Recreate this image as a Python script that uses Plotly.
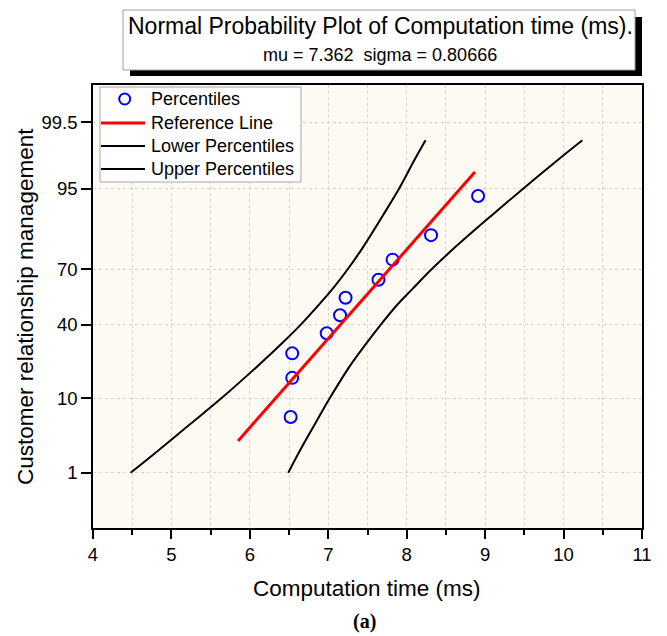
import plotly.graph_objects as go
from statistics import NormalDist

# ---------------- data ----------------
time_values = [6.52, 6.54, 6.54, 6.98, 7.15, 7.22, 7.64, 7.82, 8.31, 8.91]
pct_values = [6.1, 15.9, 25.6, 35.4, 45.1, 54.9, 64.6, 74.4, 84.1, 93.9]

ref_x = [5.85, 8.87]
ref_pct = [3, 97]

band_pct = [1, 2, 5, 10, 20, 30, 40, 50, 60, 70, 80, 90, 95, 98, 99]
lower_x = [4.48, 4.79, 5.24, 5.64, 6.09, 6.40, 6.65, 6.86, 7.06, 7.25, 7.45, 7.70, 7.90, 8.10, 8.24]
upper_x = [6.49, 6.62, 6.83, 7.02, 7.27, 7.48, 7.67, 7.86, 8.08, 8.32, 8.63, 9.09, 9.48, 9.93, 10.24]

y_tick_pct = [1, 10, 40, 70, 95, 99.5]
y_tick_text = ["1", "10", "40", "70", "95", "99.5"]
x_tick_vals = [4, 5, 6, 7, 8, 9, 10, 11]

series_names = ["Percentiles", "Reference Line", "Lower Percentiles", "Upper Percentiles"]

title_text = "Normal Probability Plot of Computation time (ms)."
subtitle_text = "mu = 7.362&nbsp;&nbsp;sigma = 0.80666"
x_title = "Computation time (ms)"
y_title = "Customer relationship management"
caption = "<b>(a)</b>"

# ---------------- probability (normal quantile) scale ----------------
nd = NormalDist()


def prob_to_z(vals):
    return [nd.inv_cdf(v / 100.0) for v in vals]


FONT = "Arial, 'Liberation Sans', sans-serif"
BLUE = "#0000ff"
RED = "#ff0000"

fig = go.Figure()

fig.add_trace(go.Scatter(
    x=time_values, y=prob_to_z(pct_values), mode="markers", name=series_names[0],
    marker=dict(symbol="circle-open", size=12, color=BLUE, line=dict(width=2, color=BLUE)),
))
fig.add_trace(go.Scatter(
    x=ref_x, y=prob_to_z(ref_pct), mode="lines", name=series_names[1],
    line=dict(color=RED, width=3),
))
fig.add_trace(go.Scatter(
    x=lower_x, y=prob_to_z(band_pct), mode="lines", name=series_names[2],
    line=dict(color="#000000", width=2, shape="spline", smoothing=1),
))
fig.add_trace(go.Scatter(
    x=upper_x, y=prob_to_z(band_pct), mode="lines", name=series_names[3],
    line=dict(color="#000000", width=2, shape="spline", smoothing=1),
))

# The page body has an 8px margin: figure is placed at (8, 8) in the window.
OFF = 8
WIN_W, WIN_H = 667, 636
W, H = WIN_W - OFF, WIN_H - OFF
# plot area in window pixels
L, R, T, B = 93, 642, 85, 528


def px(xp):
    return (xp - L) / (R - L)


def py(yp):
    return (B - yp) / (B - T)


grid = dict(gridcolor="#d6d6d6", griddash="3px,3px", gridwidth=1)

fig.update_layout(
    width=W, height=H,
    margin=dict(l=L - OFF, r=W - (R - OFF), t=T - OFF, b=H - (B - OFF), pad=0),
    paper_bgcolor="white", plot_bgcolor="#fdfaf3",
    font=dict(family=FONT, color="black", size=18),
    showlegend=False,
    xaxis=dict(
        range=[4, 11], tickvals=x_tick_vals, ticks="outside", ticklen=9, tickwidth=1.5,
        tickcolor="black", showline=True, linecolor="black", linewidth=1.5, mirror=True,
        showgrid=True, zeroline=False, tickfont=dict(size=18.5),
        minor=dict(dtick=0.5, ticks="outside", ticklen=5, tickwidth=1.5, tickcolor="black",
                   showgrid=True, **grid),
        **grid,
    ),
    yaxis=dict(
        range=[-3.1, 3.1], tickvals=prob_to_z(y_tick_pct), ticktext=y_tick_text,
        ticks="outside", ticklen=10, tickwidth=1.5, tickcolor="black",
        showline=True, linecolor="black", linewidth=1.5, mirror=True,
        showgrid=True, zeroline=False, tickfont=dict(size=18.5),
        **grid,
    ),
)

# ---------------- manual legend (Origin style) ----------------
LG_L, LG_R, LG_T, LG_B = 100, 301, 87, 182
fig.add_shape(type="rect", xref="paper", yref="paper",
              x0=px(LG_L), x1=px(LG_R), y0=py(LG_B), y1=py(LG_T),
              fillcolor="white", line=dict(color="#a8a8a8", width=1), layer="above")
row_y = [99, 123, 146, 169]
# percentiles marker
fig.add_shape(type="circle", xref="paper", yref="paper",
              x0=px(124.7 - 5.5), x1=px(124.7 + 5.5), y0=py(row_y[0] + 5.5), y1=py(row_y[0] - 5.5),
              line=dict(color=BLUE, width=2), fillcolor="rgba(0,0,0,0)", layer="above")
line_cols = [RED, "black", "black"]
line_w = [3, 2, 2]
for i in range(3):
    fig.add_shape(type="line", xref="paper", yref="paper",
                  x0=px(101), x1=px(145), y0=py(row_y[i + 1]), y1=py(row_y[i + 1]),
                  line=dict(color=line_cols[i], width=line_w[i]), layer="above")
for i, name in enumerate(series_names):
    fig.add_annotation(text=name, xref="paper", yref="paper", x=px(149), y=py(row_y[i]),
                       xanchor="left", yanchor="middle", showarrow=False,
                       font=dict(family=FONT, size=18, color="black"))

# ---------------- title box with drop shadow ----------------
fig.add_shape(type="rect", xref="paper", yref="paper",
              x0=px(130), x1=px(642), y0=py(76), y1=py(17),
              fillcolor="black", line=dict(width=0), layer="above")
fig.add_shape(type="rect", xref="paper", yref="paper",
              x0=px(123), x1=px(635), y0=py(70), y1=py(10),
              fillcolor="white", line=dict(color="#a0a0a0", width=1), layer="above")

fig.add_annotation(text=title_text, xref="paper", yref="paper", x=px(380), y=py(26),
                   xanchor="center", yanchor="middle", showarrow=False,
                   font=dict(family=FONT, size=23, color="black"))
fig.add_annotation(text=subtitle_text, xref="paper", yref="paper", x=px(380), y=py(55),
                   xanchor="center", yanchor="middle", showarrow=False,
                   font=dict(family=FONT, size=18, color="black"))

# ---------------- axis titles & caption ----------------
fig.add_annotation(text=x_title, xref="paper", yref="paper", x=px(367), y=py(588),
                   xanchor="center", yanchor="middle", showarrow=False,
                   font=dict(family=FONT, size=22.5, color="black"))
fig.add_annotation(text=y_title, xref="paper", yref="paper", x=px(25), y=py(307),
                   xanchor="center", yanchor="middle", showarrow=False, textangle=-90,
                   font=dict(family=FONT, size=22.5, color="black"))
fig.add_annotation(text=caption, xref="paper", yref="paper", x=px(364), y=py(621),
                   xanchor="center", yanchor="middle", showarrow=False,
                   font=dict(family="'Liberation Serif', 'Times New Roman', serif", size=20, color="black"))

fig.write_html("out.html")
